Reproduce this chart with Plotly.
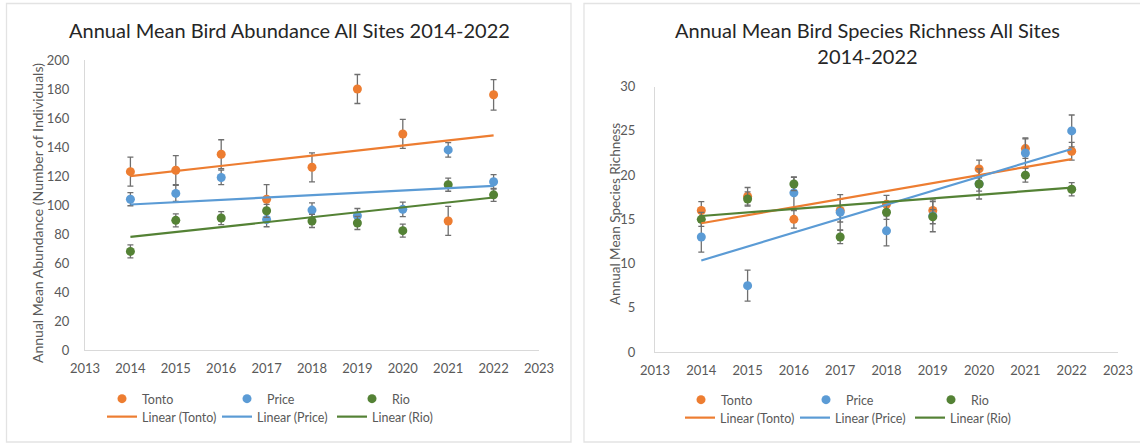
import numpy as np
import plotly.graph_objects as go

# ---- data -------------------------------------------------------------
years = [2014, 2015, 2016, 2017, 2018, 2019, 2020, 2021, 2022]
sites = ["Tonto", "Price", "Rio"]

# annual mean abundance (number of individuals) and error bar half-widths
abund_tonto = [123, 124, 135, 104, 126, 180, 149, 89, 176]
abund_tonto_err = [10, 10, 10, 10, 10, 10, 10, 10, 10.5]
abund_price = [104, 108, 119, 90, 96.5, 92.6, 97, 138, 116]
abund_price_err = [4.5, 5.5, 5, 5, 5, 5, 5, 5, 5]
abund_rio = [68, 89.4, 91, 96, 89, 87.6, 82.3, 114, 107]
abund_rio_err = [4.5, 4.5, 4.5, 4.5, 4.5, 4.5, 4.5, 4.5, 4.5]

# annual mean species richness and error bar half-widths
rich_tonto = [16, 17.6, 15, 16, 16.7, 16, 20.7, 23, 22.7]
rich_tonto_err = [1, 1, 1, 1.3, 1, 1, 1, 1.1, 1]
rich_price = [13, 7.5, 18, 15.8, 13.7, 15.4, 19, 22.5, 25]
rich_price_err = [1.7, 1.75, 1.8, 2, 1.7, 1.8, 1.7, 1.7, 1.8]
rich_rio = [15, 17.3, 19, 13, 15.8, 15.3, 19, 20, 18.4]
rich_rio_err = [0.8, 0.8, 0.75, 0.75, 0.8, 0.8, 0.8, 0.8, 0.75]

x_ticks = list(range(2013, 2024))
abund_ticks = list(range(0, 201, 20))
rich_ticks = list(range(0, 31, 5))

colors = {"Tonto": "#ED7D31", "Price": "#5B9BD5", "Rio": "#548235"}

W, H = 1140, 444
FONT = "Lato, Carlito, 'Open Sans', sans-serif"
GREY_TXT = "#595959"
AXIS_LINE = "#d9d9d9"


def px_x(p):
    return p / W


def px_y(p):
    return 1 - p / H


fig = go.Figure()

panels = [
    dict(xa="x", ya="y", leg_pts="legend", leg_fit="legend2",
         series={"Tonto": (abund_tonto, abund_tonto_err),
                 "Price": (abund_price, abund_price_err),
                 "Rio": (abund_rio, abund_rio_err)}),
    dict(xa="x2", ya="y2", leg_pts="legend3", leg_fit="legend4",
         series={"Tonto": (rich_tonto, rich_tonto_err),
                 "Price": (rich_price, rich_price_err),
                 "Rio": (rich_rio, rich_rio_err)}),
]

for p in panels:
    # mean values with error bars
    for name in sites:
        vals, errs = p["series"][name]
        fig.add_trace(go.Scatter(
            x=years, y=vals, mode="markers", name=name,
            xaxis=p["xa"], yaxis=p["ya"], legend=p["leg_pts"],
            marker=dict(color=colors[name], size=9),
            error_y=dict(type="data", array=errs, visible=True,
                         color="#6f6f6f", thickness=1.3, width=3),
            cliponaxis=False,
        ))
    # least-squares linear trend lines
    for name in sites:
        vals, _ = p["series"][name]
        slope, intercept = np.polyfit(years, vals, 1)
        fit = [slope * yr + intercept for yr in years]
        fig.add_trace(go.Scatter(
            x=years, y=fit, mode="lines", name=f"Linear ({name})",
            xaxis=p["xa"], yaxis=p["ya"], legend=p["leg_fit"],
            line=dict(color=colors[name], width=2.2),
        ))

axis_common = dict(
    showgrid=False, zeroline=False, showline=True, linecolor=AXIS_LINE,
    linewidth=1.3, ticks="", tickfont=dict(family=FONT, size=13, color=GREY_TXT),
    automargin=False,
)

fig.update_layout(
    width=W, height=H,
    margin=dict(l=0, r=0, t=0, b=0),
    paper_bgcolor="white", plot_bgcolor="white",
    font=dict(family=FONT, color=GREY_TXT),
    xaxis=dict(domain=[px_x(85), px_x(539)], range=[2013, 2023],
               tickvals=x_ticks, anchor="y", ticklabelstandoff=6, **axis_common),
    yaxis=dict(domain=[px_y(350), px_y(60)], range=[0, 200],
               tickvals=abund_ticks, anchor="x", ticklabelstandoff=12, **axis_common),
    xaxis2=dict(domain=[px_x(655), px_x(1118)], range=[2013, 2023],
                tickvals=x_ticks, anchor="y2", ticklabelstandoff=6, **axis_common),
    yaxis2=dict(domain=[px_y(352), px_y(86.7)], range=[0, 30],
                tickvals=rich_ticks, anchor="x2", ticklabelstandoff=16, **axis_common),
    showlegend=True,
)

legend_common = dict(
    orientation="h", xanchor="left", yanchor="middle",
    bgcolor="rgba(0,0,0,0)", entrywidthmode="pixels",
    itemclick=False, itemdoubleclick=False, tracegroupgap=0,
    font=dict(family=FONT, size=12.5, color=GREY_TXT),
)
fig.update_layout(
    legend=dict(x=px_x(102), y=px_y(399), entrywidth=80, **legend_common),
    legend2=dict(x=px_x(102), y=px_y(417), entrywidth=70, **legend_common),
    legend3=dict(x=px_x(681), y=px_y(400), entrywidth=80, **legend_common),
    legend4=dict(x=px_x(680), y=px_y(418), entrywidth=70, **legend_common),
)

# chart titles and axis titles
ann_common = dict(xref="paper", yref="paper", xanchor="center", yanchor="middle",
                  showarrow=False)
fig.add_annotation(text="Annual Mean Bird Abundance All Sites 2014-2022",
                   x=px_x(289), y=px_y(30),
                   font=dict(family=FONT, size=20, color="#262626"), **ann_common)
fig.add_annotation(text="Annual Mean Bird Species Richness All Sites<br>2014-2022",
                   x=px_x(867), y=px_y(43),
                   font=dict(family=FONT, size=20, color="#262626"), **ann_common)
fig.add_annotation(text="Annual Mean Abundance (Number of Individuals)",
                   x=px_x(37), y=px_y(213), textangle=-90,
                   font=dict(family=FONT, size=14, color=GREY_TXT), **ann_common)
fig.add_annotation(text="Annual Mean Species Richness",
                   x=px_x(615), y=px_y(214), textangle=-90,
                   font=dict(family=FONT, size=13.5, color=GREY_TXT), **ann_common)

# chart-area frames
fig.add_shape(type="rect", xref="paper", yref="paper",
              x0=px_x(6.5), x1=px_x(571), y0=px_y(442), y1=px_y(3.5),
              line=dict(color="#e3e3e3", width=1.3), fillcolor="rgba(0,0,0,0)")
fig.add_shape(type="rect", xref="paper", yref="paper",
              x0=px_x(584), x1=px_x(1150), y0=px_y(442), y1=px_y(3.5),
              line=dict(color="#e3e3e3", width=1.3), fillcolor="rgba(0,0,0,0)")

fig.write_html("out.html")
